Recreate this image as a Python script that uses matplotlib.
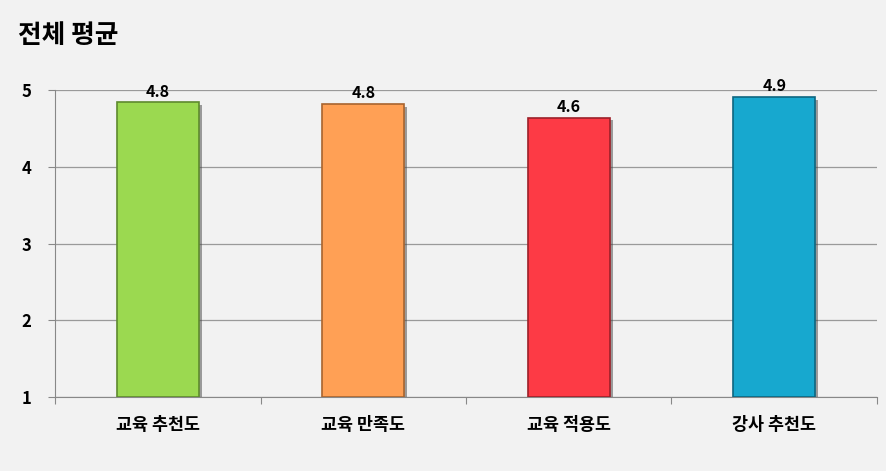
import matplotlib
matplotlib.use("Agg")
import matplotlib.pyplot as plt
import matplotlib.patheffects as pe

plt.rcParams["font.family"] = ["Noto Sans CJK KR", "DejaVu Sans"]

categories = ["교육 추천도", "교육 만족도", "교육 적용도", "강사 추천도"]
values = [4.84, 4.82, 4.64, 4.91]
colors = ["#9bd950", "#ffa055", "#fd3a45", "#17a8cf"]
edges = ["#5e8a2e", "#a8642f", "#9c2029", "#0d6680"]

bg = "#f2f2f2"
fig = plt.figure(figsize=(8.86, 4.71), dpi=100, facecolor=bg)
ax = fig.add_axes([0.0621, 0.1571, 0.9277, 0.6518], facecolor=bg)

x = range(len(categories))
bars = ax.bar(x, [v - 1 for v in values], bottom=1, width=0.40,
              color=colors, edgecolor=edges, linewidth=1.2, zorder=3)
for b in bars:
    b.set_path_effects([pe.SimplePatchShadow(offset=(2, -2), shadow_rgbFace="#444444", alpha=0.5),
                        pe.Normal()])

for i, v in enumerate(values):
    ax.annotate(f"{v:.1f}", (i, v), xytext=(0, 2), textcoords="offset points",
                ha="center", va="bottom", fontsize=11.5, fontweight="bold", zorder=5)

ax.set_xlim(-0.5, len(categories) - 0.5)
ax.set_ylim(1, 5)
ax.set_yticks([1, 2, 3, 4, 5])
ax.set_xticks([i - 0.5 for i in range(len(categories) + 1)], minor=False)
ax.set_xticklabels([])
ax.set_xticks(list(x), minor=True)
ax.set_xticklabels(categories, minor=True)
ax.tick_params(axis="x", which="minor", length=0, pad=14, labelsize=12.5)
ax.tick_params(axis="x", which="major", length=5, color="#888888", direction="out")
ax.tick_params(axis="y", length=5, color="#888888", pad=12, labelsize=12)
for lab in ax.get_xticklabels(minor=True) + ax.get_yticklabels():
    lab.set_fontweight("bold")

ax.grid(axis="y", color="#9a9a9a", linewidth=0.9, zorder=0)
for s in ["top", "right"]:
    ax.spines[s].set_visible(False)
for s in ["left", "bottom"]:
    ax.spines[s].set_color("#888888")

fig.text(0.02, 0.925, "전체 평균", fontsize=18.5, fontweight="bold", va="center", ha="left")

fig.savefig("out.png", dpi=100, facecolor=bg)
